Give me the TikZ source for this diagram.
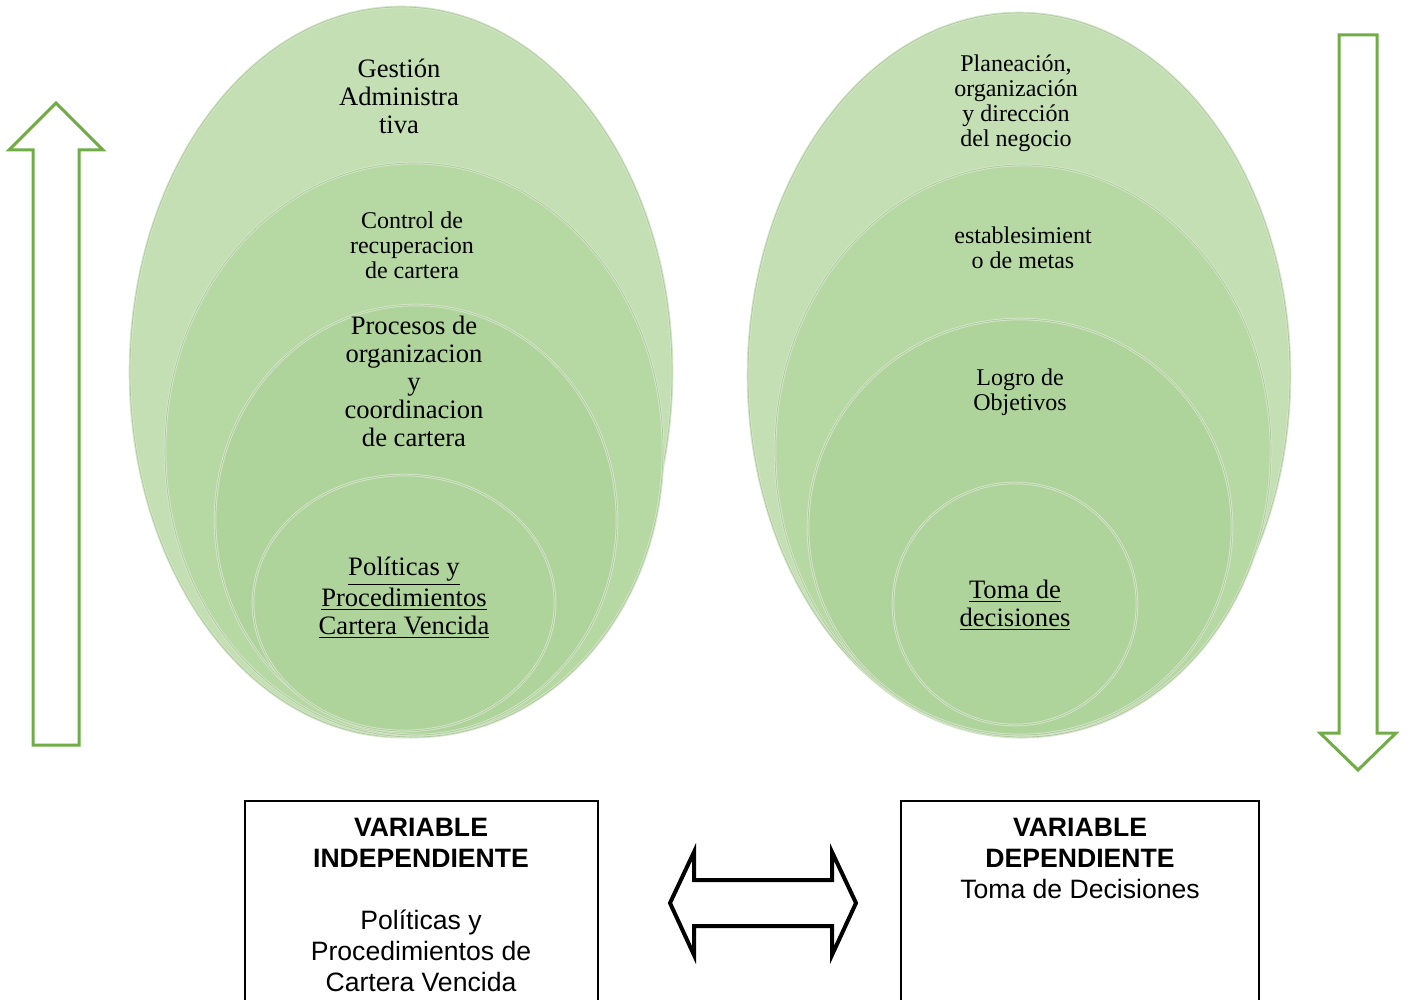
\documentclass[tikz,border=0pt]{standalone}
\usepackage{fontspec}
\setmainfont{Liberation Serif}
\setsansfont{Liberation Sans}
\usepackage{tikz}
\usetikzlibrary{shapes.geometric,positioning}
\definecolor{RingOuter}{HTML}{C4DFB3}
\definecolor{RingMid}{HTML}{B6D8A3}
\definecolor{RingInner}{HTML}{AFD49B}
\definecolor{RingEdge}{HTML}{D3E6C7}
\definecolor{RingShade}{HTML}{A9C49A}
\definecolor{FlowGreen}{HTML}{70AD47}
\tikzset{
  ring/.style={ellipse, draw=RingEdge, line width=1.3pt, fill=#1, inner sep=0pt,
    postaction={draw=RingShade, line width=0.3pt}},
  ringtext/.style={align=center, inner sep=0pt, font=\fontsize{13.3}{14}\selectfont},
  ringsmall/.style={align=center, inner sep=0pt, font=\fontsize{12}{12.5}\selectfont},
  flowarrow/.style={draw=FlowGreen, line width=1.5pt, fill=white, line join=miter},
  linkarrow/.style={draw=black, line width=2pt, fill=white, line join=miter},
  varbox/.style={draw=black, line width=0.8pt, inner sep=0pt},
  vartext/.style={align=center, inner sep=0pt, font=\sffamily\fontsize{13.3}{15.5}\selectfont}
}

\begin{document}
\begin{tikzpicture}[x=0.5pt, y=-0.5pt]
  \useasboundingbox (0,0) rectangle (1408,1000);
  \clip (0,0) rectangle (1408,1000);
  % independiente
  \node[ring=RingOuter, minimum width=271pt, minimum height=365pt] (adm) at (401,372) {};
  \node[ring=RingMid, minimum width=249pt, minimum height=287pt] (ctrl) at (414,450) {};
  \node[ring=RingInner!97!RingMid, minimum width=201pt, minimum height=215pt] (proc) at (416,520) {};
  \node[ring=RingInner, minimum width=151pt, minimum height=128pt] (pol) at (404,603) {};
  \node[ringtext] (gestion) at (399,96) {Gestión\\Administra\\tiva};
  \node[ringsmall] (control) at (412,245) {Control de\\recuperacion\\de cartera};
  \node[ringtext] (procesos) at (414,381) {Procesos de\\organizacion\\y\\coordinacion\\de cartera};
  \node[ringtext] (politicas) at (404,598) {\underline{Políticas y}\\\underline{Procedimientos}\\\underline{Cartera Vencida}};
  % dependiente
  \node[ring=RingOuter, minimum width=271pt, minimum height=362pt] (plan) at (1019,375) {};
  \node[ring=RingMid, minimum width=248pt, minimum height=286pt] (est) at (1023,451) {};
  \node[ring=RingInner!97!RingMid, minimum width=212pt, minimum height=208pt] (obj) at (1020,527) {};
  \node[ring=RingInner, minimum width=122pt, minimum height=121pt] (dec) at (1015,604) {};
  \node[ringsmall] (planeacion) at (1016,103) {Planeación,\\organización\\y dirección\\del negocio};
  \node[ringsmall] (metas) at (1023,248) {establesimient\\o de metas};
  \node[ringsmall] (logro) at (1020,392) {Logro de\\Objetivos};
  \node[ringtext] (toma) at (1015,605) {\underline{Toma de}\\\underline{decisiones}};
  % flechas verdes
  \draw[flowarrow] (33,745) -- (33,150) -- (9,150) -- (56,103) -- (103,150) -- (79,150) -- (79,745) -- cycle;
  \draw[flowarrow] (1339,35) -- (1339,733) -- (1320,733) -- (1358,770) -- (1396,733) -- (1377,733) -- (1377,35) -- cycle;
  % variables
  \node[varbox, minimum width=176.5pt, minimum height=110pt] (indep) at (421.5,911) {};
  \node[varbox, minimum width=179pt, minimum height=110pt] (dep) at (1080,911) {};
  \node[vartext, anchor=north] (indeptxt) at (421,818)
    {\textbf{VARIABLE}\\\textbf{INDEPENDIENTE}\\[15.5pt]Políticas y\\Procedimientos de\\Cartera Vencida};
  \node[vartext, anchor=north] (deptxt) at (1080,818)
    {\textbf{VARIABLE}\\\textbf{DEPENDIENTE}\\Toma de Decisiones};
  \draw[linkarrow] (670,903) -- (694,852) -- (694,880) -- (832,880) -- (832,852) -- (856,903)
    -- (832,955) -- (832,926) -- (694,926) -- (694,955) -- cycle;
\end{tikzpicture}
\end{document}
